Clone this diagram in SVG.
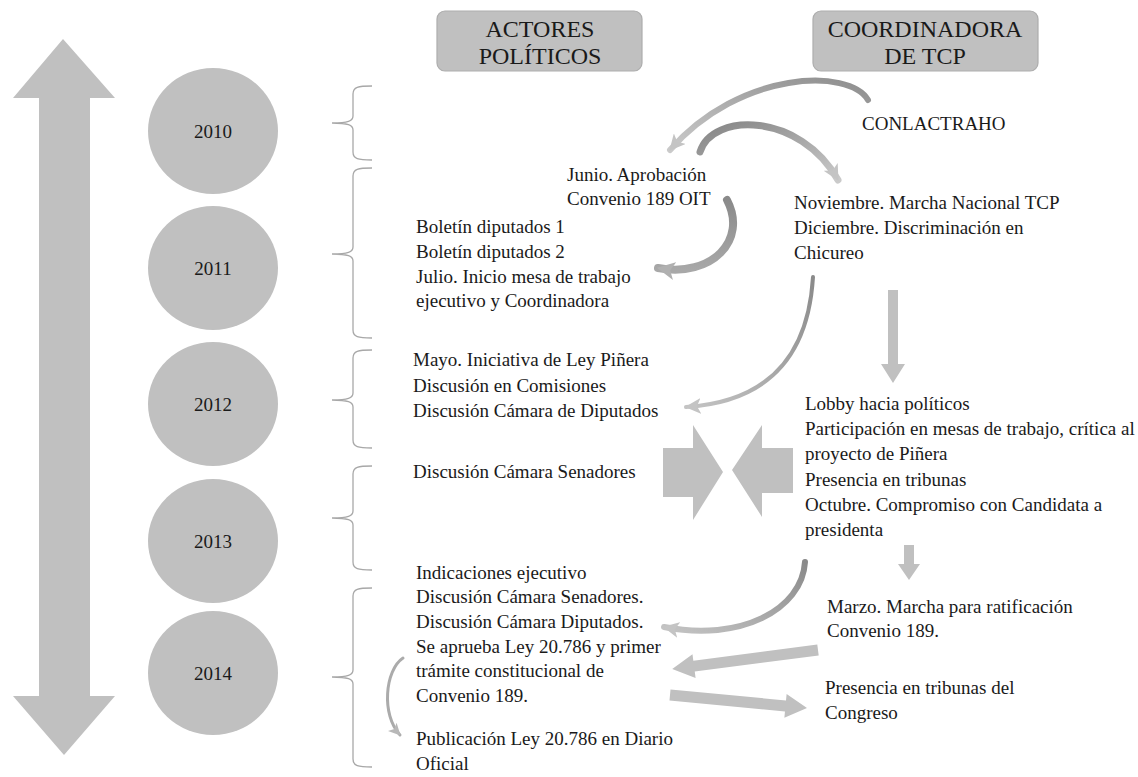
<svg xmlns="http://www.w3.org/2000/svg" width="1138" height="777" viewBox="0 0 1138 777">
<style>
.lbl{font-family:'Liberation Serif','Times New Roman',serif;font-size:19px;fill:#1a1a1a}
.hdr{font-family:'Liberation Serif','Times New Roman',serif;font-size:24px;fill:#1a1a1a;text-anchor:middle}
.yr{font-family:'Liberation Serif','Times New Roman',serif;font-size:19px;fill:#1a1a1a;text-anchor:middle}
.box{fill:#c0c0c0;stroke:#adadad;stroke-width:1.2}
.ell{fill:#c0c0c0}
.br{fill:none;stroke:#a8a8a8;stroke-width:1.3}
.blk{fill:#c0c0c0}
.cv{fill:none;stroke-linecap:round}
</style>
<defs>
<marker id="ah" viewBox="0 0 16 16" refX="15" refY="8" markerWidth="16" markerHeight="16" markerUnits="userSpaceOnUse" orient="auto">
<path d="M0,0 L16,8 L0,16 L4,8 z" fill="#c4c4c4"/>
</marker>
<marker id="ahd" viewBox="0 0 16 16" refX="15" refY="8" markerWidth="18" markerHeight="18" markerUnits="userSpaceOnUse" orient="auto">
<path d="M0,0 L16,8 L0,16 L4,8 z" fill="#b0b0b0"/>
</marker>
<marker id="ahs" viewBox="0 0 16 16" refX="15" refY="8" markerWidth="12" markerHeight="12" markerUnits="userSpaceOnUse" orient="auto">
<path d="M0,0 L16,8 L0,16 L4,8 z" fill="#b8b8b8"/>
</marker>
<linearGradient id="g1" x1="1" y1="0" x2="0" y2="1"><stop offset="0" stop-color="#8e8e8e"/><stop offset="1" stop-color="#cacaca"/></linearGradient>
<linearGradient id="g2" x1="0" y1="0" x2="1" y2="1"><stop offset="0" stop-color="#858585"/><stop offset="1" stop-color="#cacaca"/></linearGradient>
<linearGradient id="g3" x1="0" y1="0" x2="0" y2="1"><stop offset="0" stop-color="#8a8a8a"/><stop offset="1" stop-color="#a8a8a8"/></linearGradient>
<linearGradient id="g4" x1="1" y1="0" x2="0" y2="1"><stop offset="0" stop-color="#8a8a8a"/><stop offset="1" stop-color="#c4c4c4"/></linearGradient>
</defs>

<g id="timeline-arrow">
<polygon class="blk" points="63,39 115,98 90,98 90,696 115,696 64,755 13,696 39,696 39,98 13,98"/>
</g>

<g id="header-actores">
<rect class="box" x="437" y="11" width="205" height="60" rx="8"/>
<text class="hdr" x="540" y="37">ACTORES</text>
<text class="hdr" x="540" y="64">POLÍTICOS</text>
</g>
<g id="header-coordinadora">
<rect class="box" x="813" y="11" width="225" height="60" rx="8"/>
<text class="hdr" x="925" y="37">COORDINADORA</text>
<text class="hdr" x="925" y="64">DE TCP</text>
</g>

<g id="year-2010"><ellipse class="ell" cx="213" cy="131" rx="65" ry="63"/><text class="yr" x="213" y="138">2010</text></g>
<g id="year-2011"><ellipse class="ell" cx="213" cy="268" rx="65" ry="62"/><text class="yr" x="213" y="275">2011</text></g>
<g id="year-2012"><ellipse class="ell" cx="213" cy="404" rx="65" ry="62"/><text class="yr" x="213" y="411">2012</text></g>
<g id="year-2013"><ellipse class="ell" cx="213" cy="541" rx="65" ry="62"/><text class="yr" x="213" y="548">2013</text></g>
<g id="year-2014"><ellipse class="ell" cx="213" cy="673" rx="65" ry="62"/><text class="yr" x="213" y="680">2014</text></g>

<g id="brackets">
<path class="br" d="M372,86 C358,86 353,87 353,94 L353,116 C353,121 348,123 332,123 C348,123 353,125 353,130 L353,152 C353,159 358,160 372,160"/>
<path class="br" d="M372,168 C358,168 353,169 353,176 L353,247 C353,252 348,254 332,254 C348,254 353,256 353,261 L353,330 C353,337 358,338 372,338"/>
<path class="br" d="M372,350 C358,350 353,351 353,358 L353,393 C353,398 348,400 332,400 C348,400 353,402 353,407 L353,440 C353,447 358,448 372,448"/>
<path class="br" d="M372,466 C358,466 353,467 353,474 L353,511 C353,516 348,518 332,518 C348,518 353,520 353,525 L353,562 C353,569 358,570 372,570"/>
<path class="br" d="M372,588 C358,588 353,589 353,596 L353,670 C353,675 348,677 332,677 C348,677 353,679 353,684 L353,759 C353,766 358,767 372,767"/>
</g>

<g id="node-conlactraho"><text class="lbl" x="862" y="130">CONLACTRAHO</text></g>
<g id="node-junio">
<text class="lbl" x="567" y="181">Junio. Aprobación</text>
<text class="lbl" x="567" y="205">Convenio 189 OIT</text>
</g>
<g id="node-2011-actores">
<text class="lbl" x="416" y="233">Boletín diputados 1</text>
<text class="lbl" x="416" y="258">Boletín diputados 2</text>
<text class="lbl" x="416" y="283">Julio. Inicio mesa de trabajo</text>
<text class="lbl" x="416" y="307">ejecutivo y Coordinadora</text>
</g>
<g id="node-2011-coord">
<text class="lbl" x="794" y="209">Noviembre. Marcha Nacional TCP</text>
<text class="lbl" x="794" y="234">Diciembre. Discriminación en</text>
<text class="lbl" x="794" y="259">Chicureo</text>
</g>
<g id="node-2012-actores">
<text class="lbl" x="413" y="366">Mayo. Iniciativa de Ley Piñera</text>
<text class="lbl" x="413" y="392">Discusión en Comisiones</text>
<text class="lbl" x="413" y="417">Discusión Cámara de Diputados</text>
</g>
<g id="node-2013-actores">
<text class="lbl" x="413" y="478">Discusión Cámara Senadores</text>
</g>
<g id="node-coord-lobby">
<text class="lbl" x="805" y="410">Lobby hacia políticos</text>
<text class="lbl" x="805" y="435">Participación en mesas de trabajo, crítica al</text>
<text class="lbl" x="805" y="460">proyecto de Piñera</text>
<text class="lbl" x="805" y="486">Presencia en tribunas</text>
<text class="lbl" x="805" y="511">Octubre. Compromiso con Candidata a</text>
<text class="lbl" x="805" y="536">presidenta</text>
</g>
<g id="node-2014-actores">
<text class="lbl" x="416" y="579">Indicaciones ejecutivo</text>
<text class="lbl" x="416" y="603">Discusión Cámara Senadores.</text>
<text class="lbl" x="416" y="628">Discusión Cámara Diputados.</text>
<text class="lbl" x="416" y="653">Se aprueba Ley 20.786 y primer</text>
<text class="lbl" x="416" y="677">trámite constitucional de</text>
<text class="lbl" x="416" y="702">Convenio 189.</text>
<text class="lbl" x="416" y="745">Publicación Ley 20.786 en Diario</text>
<text class="lbl" x="416" y="770">Oficial</text>
</g>
<g id="node-marzo">
<text class="lbl" x="827" y="613">Marzo. Marcha para ratificación</text>
<text class="lbl" x="827" y="637">Convenio 189.</text>
</g>
<g id="node-presencia">
<text class="lbl" x="825" y="694">Presencia en tribunas del</text>
<text class="lbl" x="825" y="719">Congreso</text>
</g>

<g id="connectors">
<path class="cv" d="M868,100 C850,68 740,70 670,150" stroke="url(#g1)" stroke-width="6" marker-end="url(#ah)"/>
<path class="cv" d="M700,152 C712,112 800,112 838,180" stroke="url(#g2)" stroke-width="7" marker-end="url(#ah)"/>
<path class="cv" d="M727,200 C748,240 712,278 658,268" stroke="url(#g3)" stroke-width="8" marker-end="url(#ahd)"/>
<path class="cv" d="M813,277 C808,360 765,402 686,407" stroke="url(#g4)" stroke-width="4" marker-end="url(#ah)"/>
<polygon class="blk" points="888,290 898,290 898,364 905,364 893,383 881,364 888,364"/>
<polygon class="blk" points="663,448 693,448 693,425 723,472 693,520 693,497 663,497"/>
<polygon class="blk" points="793,448 762,448 762,425 732,470 762,517 762,493 793,493"/>
<polygon class="blk" points="904,545 914,545 914,564 920,564 909,580 898,564 904,564"/>
<path class="cv" d="M805,562 C802,610 740,642 664,627" stroke="url(#g4)" stroke-width="6" marker-end="url(#ah)"/>
<polygon class="blk" points="0,-5.5 125,-5.5 125,-12 147,0 125,12 125,5.5 0,5.5" transform="translate(818,650) rotate(172.6)"/>
<polygon class="blk" points="0,-5.5 116,-5.5 116,-12 137.6,0 116,12 116,5.5 0,5.5" transform="translate(670,695) rotate(5.4)"/>
<path class="cv" d="M403,658 C385,670 381,715 400,735" stroke="#ababab" stroke-width="3" marker-end="url(#ahs)"/>
</g>
</svg>
